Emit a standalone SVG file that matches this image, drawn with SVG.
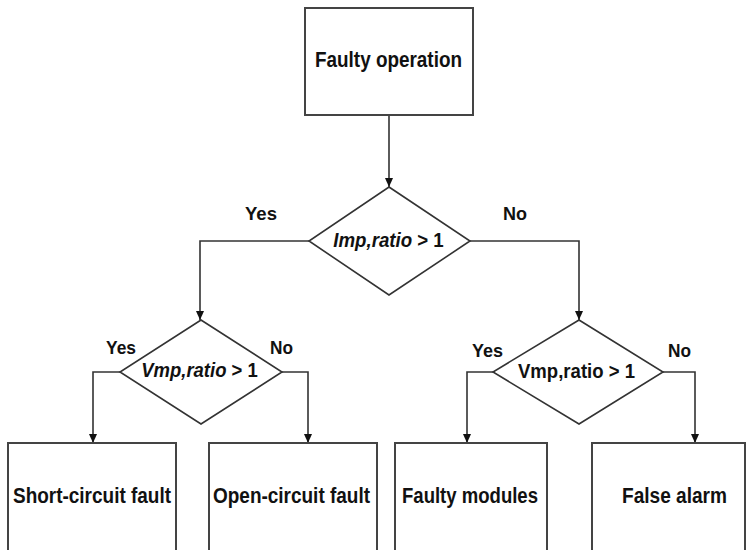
<svg xmlns="http://www.w3.org/2000/svg" width="751" height="550" viewBox="0 0 751 550">
<defs>
<marker id="arr" markerWidth="10" markerHeight="10" refX="9" refY="5" orient="auto" markerUnits="userSpaceOnUse">
<path d="M0,1 L9,5 L0,9 Z" fill="#111"/>
</marker>
</defs>
<style>
.box{fill:#fff;stroke:#444;stroke-width:2}
.dia{fill:#fff;stroke:#333;stroke-width:1.6}
.ln{fill:none;stroke:#333;stroke-width:1.6}
text{font-family:"Liberation Sans",Arial,sans-serif;font-weight:bold;fill:#111}
.t{font-size:22px}
.d{font-size:21px}
.lb{font-size:19px}
.it{font-style:italic}
</style>
<rect width="751" height="550" fill="#fff"/>
<g id="connectors">
<path class="ln" d="M389,115 V187" marker-end="url(#arr)"/>
<path class="ln" d="M309,241 H200 V320" marker-end="url(#arr)"/>
<path class="ln" d="M470,241 H579 V320" marker-end="url(#arr)"/>
<path class="ln" d="M120,372 H93 V443" marker-end="url(#arr)"/>
<path class="ln" d="M282,372 H308 V443" marker-end="url(#arr)"/>
<path class="ln" d="M493,372 H467 V443" marker-end="url(#arr)"/>
<path class="ln" d="M663,372 H695 V443" marker-end="url(#arr)"/>
<text class="lb" x="245" y="220" textLength="32" lengthAdjust="spacingAndGlyphs">Yes</text>
<text class="lb" x="503" y="220" textLength="24" lengthAdjust="spacingAndGlyphs">No</text>
<text class="lb" x="106" y="354" textLength="30" lengthAdjust="spacingAndGlyphs">Yes</text>
<text class="lb" x="270" y="354" textLength="23" lengthAdjust="spacingAndGlyphs">No</text>
<text class="lb" x="472" y="357" textLength="31" lengthAdjust="spacingAndGlyphs">Yes</text>
<text class="lb" x="668" y="357" textLength="23" lengthAdjust="spacingAndGlyphs">No</text>
</g>
<g id="n-faulty-operation">
<rect class="box" x="305" y="8" width="168" height="107"/>
<text class="t" x="315" y="67" textLength="147" lengthAdjust="spacingAndGlyphs" font-size="23">Faulty operation</text>
</g>
<g id="n-imp">
<polygon class="dia" points="389,187 470,241 389,295 309,241"/>
<text class="d" text-anchor="middle" transform="translate(388.5,247) scale(0.89,1)"><tspan class="it">Imp,ratio</tspan> &gt; 1</text>
</g>
<g id="n-vmp-left">
<polygon class="dia" points="201,320 282,372 201,424 120,372"/>
<text class="d" text-anchor="middle" transform="translate(199.5,377) scale(0.88,1)"><tspan class="it">Vmp,ratio</tspan> &gt; 1</text>
</g>
<g id="n-vmp-right">
<polygon class="dia" points="579,320 663,372 579,424 493,372"/>
<text class="d" x="518" y="378" textLength="117" lengthAdjust="spacingAndGlyphs">Vmp,ratio &gt; 1</text>
</g>
<g id="n-short">
<rect class="box" x="8" y="443" width="168" height="110"/>
<text class="t" x="13" y="503" textLength="158" lengthAdjust="spacingAndGlyphs">Short-circuit fault</text>
</g>
<g id="n-open">
<rect class="box" x="209" y="443" width="168" height="110"/>
<text class="t" x="213" y="503" textLength="157" lengthAdjust="spacingAndGlyphs">Open-circuit fault</text>
</g>
<g id="n-modules">
<rect class="box" x="395" y="443" width="152" height="110"/>
<text class="t" x="402" y="503" textLength="136" lengthAdjust="spacingAndGlyphs">Faulty modules</text>
</g>
<g id="n-false">
<rect class="box" x="592" y="443" width="153" height="110"/>
<text class="t" x="622" y="503" textLength="105" lengthAdjust="spacingAndGlyphs">False alarm</text>
</g>
</svg>
